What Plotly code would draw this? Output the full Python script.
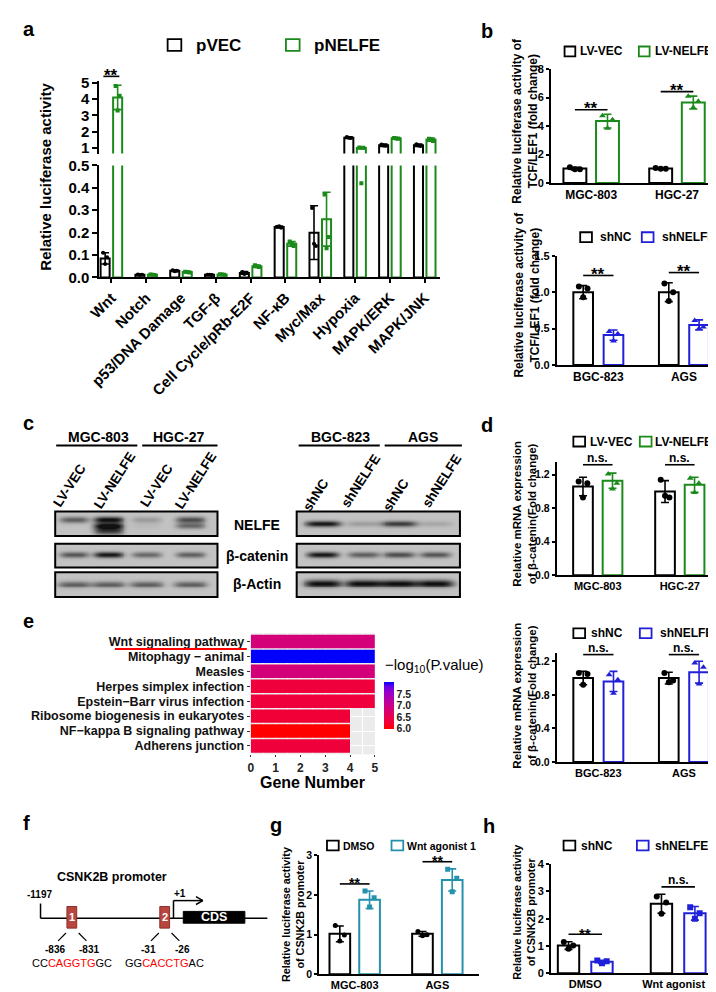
import numpy as np
import plotly.graph_objects as go

W, H = 716, 992
FONT = "Liberation Sans, Arial, Helvetica, sans-serif"
BLACK = "#000000"
GREEN = "#1b8a1b"
BLUE = "#2020d8"
TEAL = "#2592ad"
BRICK = "#b8463f"

# ---------------- DATA ----------------
# panel a
a_categories = ["Wnt", "Notch", "p53/DNA Damage", "TGF-β", "Cell Cycle/pRb-E2F",
                "NF-κB", "Myc/Max", "Hypoxia", "MAPK/ERK", "MAPK/JNK"]
a_pvec_mean = [0.085, 0.012, 0.030, 0.012, 0.020, 0.225, 0.20, 1.62, 1.15, 1.15]
a_pvec_sd = [0.025, 0.002, 0.003, 0.002, 0.006, 0.004, 0.12, 0.05, 0.07, 0.07]
a_pvec_pts = [[0.11, 0.09, 0.06], [0.013, 0.012, 0.011], [0.032, 0.030, 0.028],
              [0.012, 0.011, 0.012], [0.024, 0.020, 0.015], [0.226, 0.222, 0.228],
              [0.31, 0.14, 0.15], [1.66, 1.60, 1.61], [1.20, 1.12, 1.13], [1.21, 1.10, 1.14]]
a_pnelfe_mean = [4.10, 0.012, 0.024, 0.013, 0.050, 0.150, 0.26, 0.98, 1.58, 1.50]
a_pnelfe_sd = [0.75, 0.002, 0.003, 0.002, 0.005, 0.010, 0.12, 0.05, 0.05, 0.10]
a_pnelfe_pts = [[4.8, 4.2, 3.3], [0.013, 0.011, 0.012], [0.026, 0.022, 0.024],
                [0.014, 0.012, 0.013], [0.055, 0.047, 0.050], [0.16, 0.14, 0.15],
                [0.37, 0.18, 0.13], [1.02, 1.00, 0.42], [1.60, 1.55, 1.57], [1.55, 1.42, 1.50]]

# panel b
b_oe_cells = ["MGC-803", "HGC-27"]
b_lvvec_mean = [1.02, 1.02]
b_lvvec_sd = [0.09, 0.05]
b_lvvec_pts = [[1.12, 0.97, 0.97], [1.06, 1.00, 1.00]]
b_lvnelfe_mean = [4.35, 5.65]
b_lvnelfe_sd = [0.48, 0.45]
b_lvnelfe_pts = [[4.72, 4.45, 3.85], [6.10, 5.75, 5.30]]

b_kd_cells = ["BGC-823", "AGS"]
b_shnc_mean = [1.00, 1.00]
b_shnc_sd = [0.09, 0.13]
b_shnc_pts = [[1.08, 1.05, 0.93], [1.12, 1.00, 0.88]]
b_shnelfe_mean = [0.41, 0.55]
b_shnelfe_sd = [0.07, 0.07]
b_shnelfe_pts = [[0.46, 0.43, 0.33], [0.61, 0.52, 0.50]]

# panel c (relative band darkness per lane)
c_left_groups = ["MGC-803", "HGC-27"]
c_right_groups = ["BGC-823", "AGS"]
c_left_lanes = ["LV-VEC", "LV-NELFE", "LV-VEC", "LV-NELFE"]
c_right_lanes = ["shNC", "shNELFE", "shNC", "shNELFE"]
c_rows = ["NELFE", "β-catenin", "β-Actin"]
c_left_nelfe = [0.55, 1.00, 0.22, 0.65]
c_left_nelfe_lower = [0.0, 0.95, 0.05, 0.50]
c_left_nelfe_smear = [0.0, 0.75, 0.0, 0.0]
c_left_catenin = [0.60, 0.95, 0.50, 0.55]
c_left_actin = [0.55, 0.55, 0.55, 0.55]
c_right_nelfe = [0.95, 0.20, 0.75, 0.15]
c_right_catenin = [0.95, 0.55, 0.65, 0.60]
c_right_actin = [1.00, 1.00, 1.00, 1.00]

# panel d
d_lvvec_mean = [1.06, 1.00]
d_lvvec_sd = [0.11, 0.13]
d_lvvec_pts = [[1.12, 1.10, 0.93], [1.14, 0.93, 0.95]]
d_lvnelfe_mean = [1.13, 1.08]
d_lvnelfe_sd = [0.09, 0.09]
d_lvnelfe_pts = [[1.21, 1.10, 1.03], [1.16, 1.10, 0.99]]
d_shnc_mean = [1.00, 1.00]
d_shnc_sd = [0.08, 0.07]
d_shnc_pts = [[1.06, 1.05, 0.92], [1.06, 0.97, 0.95]]
d_shnelfe_mean = [0.96, 1.07]
d_shnelfe_sd = [0.12, 0.13]
d_shnelfe_pts = [[1.04, 0.98, 0.82], [1.18, 1.13, 0.93]]

# panel e
e_terms = ["Wnt signaling pathway", "Mitophagy − animal", "Measles", "Herpes simplex infection",
           "Epstein−Barr virus infection", "Ribosome biogenesis in eukaryotes",
           "NF−kappa B signaling pathway", "Adherens junction"]
e_gene_number = [5, 5, 5, 5, 5, 4, 4, 4]
e_neglog10p = [6.85, 8.05, 6.85, 6.30, 6.30, 6.25, 5.93, 6.28]
e_cbar_ticks = [6.0, 6.5, 7.0, 7.5]

# panel g
g_cells = ["MGC-803", "AGS"]
g_dmso_mean = [1.02, 1.02]
g_dmso_sd = [0.20, 0.06]
g_dmso_pts = [[1.23, 0.99, 0.84], [1.08, 1.00, 0.97]]
g_wnt_mean = [1.88, 2.38]
g_wnt_sd = [0.22, 0.28]
g_wnt_pts = [[2.10, 1.93, 1.70], [2.65, 2.42, 2.08]]

# panel h
h_treat = ["DMSO", "Wnt agonist 1"]
h_shnc_mean = [1.02, 2.55]
h_shnc_sd = [0.14, 0.35]
h_shnc_pts = [[1.15, 1.02, 0.90], [2.82, 2.60, 2.18]]
h_shnelfe_mean = [0.42, 2.20]
h_shnelfe_sd = [0.06, 0.25]
h_shnelfe_pts = [[0.47, 0.44, 0.37], [2.42, 2.20, 2.00]]

# ---------------- helpers ----------------
traces, shapes, annotations = [], [], []
layout_axes = {}
AX = {}


def P(x, y):
    return x / W, 1 - y / H


def axname(n, letter):
    return f"{letter}axis" + ("" if n == 1 else str(n))


def axref(n, letter):
    return letter + ("" if n == 1 else str(n))


def add_axes(n, xdom, xr, ydom, yr, xkw, ykw):
    AX[n] = (xdom, xr, ydom, yr)
    xa = dict(domain=[xdom[0] / W, xdom[1] / W], range=list(xr), anchor=axref(n, "y"),
              showgrid=False, zeroline=False, fixedrange=True)
    xa.update(xkw)
    ya = dict(domain=[1 - ydom[1] / H, 1 - ydom[0] / H], range=list(yr), anchor=axref(n, "x"),
              showgrid=False, zeroline=False, fixedrange=True)
    ya.update(ykw)
    layout_axes[axname(n, "x")] = xa
    layout_axes[axname(n, "y")] = ya


def to_px(n, x, y):
    xdom, xr, ydom, yr = AX[n]
    X = xdom[0] + (x - xr[0]) / (xr[1] - xr[0]) * (xdom[1] - xdom[0])
    Y = ydom[1] - (y - yr[0]) / (yr[1] - yr[0]) * (ydom[1] - ydom[0])
    return X, Y


def line(x0, y0, x1, y1, color="black", w=1.6):
    a, b = P(x0, y0)
    c, d = P(x1, y1)
    shapes.append(dict(type="line", xref="paper", yref="paper", x0=a, y0=b, x1=c, y1=d,
                       line=dict(color=color, width=w)))


def rect(x0, y0, x1, y1, color="black", fill="rgba(0,0,0,0)", w=1.6, layer="above"):
    a, b = P(x0, y0)
    c, d = P(x1, y1)
    shapes.append(dict(type="rect", xref="paper", yref="paper", x0=a, y0=b, x1=c, y1=d,
                       line=dict(color=color, width=w), fillcolor=fill, layer=layer))


def text(x, y, s, size, color="black", bold=True, xanchor="center", yanchor="middle", angle=0):
    a, b = P(x, y)
    annotations.append(dict(xref="paper", yref="paper", x=a, y=b,
                            text=(f"<b>{s}</b>" if bold else s), showarrow=False,
                            font=dict(family=FONT, size=size, color=color),
                            xanchor=xanchor, yanchor=yanchor, textangle=angle, borderpad=0))


def tfont(size, color="black"):
    return dict(family=FONT, size=size, color=color, weight="bold")


def ystyle(tickvals, fmt, size, ticklen=4):
    return dict(showline=True, linecolor="black", linewidth=1.8, ticks="outside", ticklen=ticklen,
                tickwidth=1.8, tickcolor="black", tickvals=tickvals, tickformat=fmt,
                tickfont=tfont(size))


def xcat(cats, size, angle=0, ticks=""):
    return dict(showline=True, linecolor="black", linewidth=1.8, ticks=ticks, ticklen=4,
                tickwidth=1.8, tickcolor="black", tickvals=list(range(len(cats))),
                ticktext=cats, tickangle=angle, tickfont=tfont(size))


JIT = [-0.22, 0.22, 0.0]


def bar_group(n, means, sds, pts, xs, width, color, symbol, msize):
    xr_, yr_ = axref(n, "x"), axref(n, "y")
    traces.append(go.Bar(x=xs, y=means, width=width, xaxis=xr_, yaxis=yr_,
                         marker=dict(color="white", line=dict(color=color, width=2)),
                         error_y=dict(type="data", array=sds, visible=True, color=color,
                                      thickness=1.6, width=4),
                         showlegend=False, hoverinfo="skip"))
    sx, sy = [], []
    for x0, p in zip(xs, pts):
        for j, v in enumerate(p):
            sx.append(x0 + JIT[j] * width)
            sy.append(v)
    traces.append(go.Scatter(x=sx, y=sy, mode="markers", xaxis=xr_, yaxis=yr_,
                             marker=dict(symbol=symbol, color=color, size=msize, line=dict(width=0)),
                             showlegend=False, hoverinfo="skip"))


def bracket(n, x0, x1, yv, label, size):
    X0, Y = to_px(n, x0, yv)
    X1, _ = to_px(n, x1, yv)
    line(X0, Y, X1, Y, w=1.6)
    if label.startswith("*"):
        text((X0 + X1) / 2, Y - 1, label, size, yanchor="middle")
    else:
        text((X0 + X1) / 2, Y + 1, label, size, yanchor="bottom")


def legend_item(xbox, y, color, label, size, bw=12, bh=10, gap=4):
    rect(xbox, y - bh / 2, xbox + bw, y + bh / 2, color=color, fill="white", w=1.8)
    text(xbox + bw + gap, y, label, size, xanchor="left")


def top_of(means, sds, pts, i):
    return max(means[i] + sds[i], max(pts[i]))


# ---------------- panel a (broken axis) ----------------
a_xr = (-0.35, 9.45)
a_top_yr = (1 - 6 / 16.5, 5 + 2 / 16.5)
add_axes(1, (81, 430), a_xr, (65, 139), a_top_yr,
         dict(visible=False),
         ystyle([1, 2, 3, 4, 5], "d", 15, 5))
add_axes(2, (81, 430), a_xr, (151, 265), (0, 0.5),
         xcat(a_categories, 15, -45, "outside"),
         ystyle([0, 0.1, 0.2, 0.3, 0.4, 0.5], ".1f", 15, 5))
a_off, a_w = 0.18, 0.26
xs_v = [i - a_off for i in range(len(a_categories))]
xs_n = [i + a_off for i in range(len(a_categories))]
for n in (1, 2):
    bar_group(n, a_pvec_mean, a_pvec_sd, a_pvec_pts, xs_v, a_w, BLACK, "circle", 4)
    bar_group(n, a_pnelfe_mean, a_pnelfe_sd, a_pnelfe_pts, xs_n, a_w, GREEN, "square", 4)
wnt_top = max(top_of(a_pvec_mean, a_pvec_sd, a_pvec_pts, 0), top_of(a_pnelfe_mean, a_pnelfe_sd, a_pnelfe_pts, 0))
bracket(1, -a_off - 0.05, a_off + 0.05, wnt_top + 0.55, "**", 17)
legend_item(151, 28.5, BLACK, "pVEC", 17, bw=14, bh=12, gap=14)
legend_item(272, 28.5, GREEN, "pNELFE", 17, bw=14, bh=12, gap=14)
text(26, 162, "Relative luciferase activity", 15, angle=-90)

# ---------------- panel b ----------------
b_top_xr = (-0.47, 1.49)
b_bot_xr = (-0.486, 1.41)
add_axes(3, (543, 715), b_top_xr, (53, 169), (0, 8), xcat(b_oe_cells, 12), ystyle([0, 2, 4, 6, 8], "d", 11, 3))
add_axes(4, (549, 715), b_bot_xr, (243, 354), (0, 1.5), xcat(b_kd_cells, 12), ystyle([0, 0.5, 1.0, 1.5], ".1f", 11, 3))
bt_off, bt_w = 0.19, 0.267
bb_off, bb_w = 0.177, 0.23
bar_group(3, b_lvvec_mean, b_lvvec_sd, b_lvvec_pts, [-bt_off, 1 - bt_off], bt_w, BLACK, "circle", 6)
bar_group(3, b_lvnelfe_mean, b_lvnelfe_sd, b_lvnelfe_pts, [bt_off, 1 + bt_off], bt_w, GREEN, "triangle-up", 6)
bar_group(4, b_shnc_mean, b_shnc_sd, b_shnc_pts, [-bb_off, 1 - bb_off], bb_w, BLACK, "circle", 6)
bar_group(4, b_shnelfe_mean, b_shnelfe_sd, b_shnelfe_pts, [bb_off, 1 + bb_off], bb_w, BLUE, "triangle-up", 6)
for i in range(2):
    t = max(top_of(b_lvvec_mean, b_lvvec_sd, b_lvvec_pts, i), top_of(b_lvnelfe_mean, b_lvnelfe_sd, b_lvnelfe_pts, i))
    bracket(3, i - bt_off, i + bt_off, t + 0.32, "**", 17)
    t = max(top_of(b_shnc_mean, b_shnc_sd, b_shnc_pts, i), top_of(b_shnelfe_mean, b_shnelfe_sd, b_shnelfe_pts, i))
    bracket(4, i - bb_off, i + bb_off, t + 0.14, "**", 17)
legend_item(557, 35, BLACK, "LV-VEC", 12, bw=11, bh=10, gap=4)
legend_item(633, 35, GREEN, "LV-NELFE", 12, bw=11, bh=10, gap=5)
legend_item(573, 224, BLACK, "shNC", 12, bw=12, bh=10, gap=7)
legend_item(636, 224, BLUE, "shNELFE", 12, bw=12, bh=10, gap=8)
text(517, 105, "Relative luciferase activity of<br>TCF/LEF1 (fold change)", 12, angle=-90)
text(519, 282, "Relative luciferase activity of<br>TCF/LEF1 (fold change)", 12, angle=-90)

# ---------------- panel d ----------------
d_top_xr = (-0.5, 1.49)
d_off, d_w = 0.18, 0.24
add_axes(5, (549, 716), d_top_xr, (453, 568), (0, 1.35), xcat(b_oe_cells, 11), ystyle([0, 0.4, 0.8, 1.2], ".1f", 10.5, 3))
add_axes(6, (549, 715), b_bot_xr, (647, 758), (0, 1.3), xcat(b_kd_cells, 11), ystyle([0, 0.4, 0.8, 1.2], ".1f", 10.5, 3))
bar_group(5, d_lvvec_mean, d_lvvec_sd, d_lvvec_pts, [-d_off, 1 - d_off], d_w, BLACK, "circle", 6)
bar_group(5, d_lvnelfe_mean, d_lvnelfe_sd, d_lvnelfe_pts, [d_off, 1 + d_off], d_w, GREEN, "triangle-up", 6)
bar_group(6, d_shnc_mean, d_shnc_sd, d_shnc_pts, [-bb_off, 1 - bb_off], bb_w, BLACK, "circle", 6)
bar_group(6, d_shnelfe_mean, d_shnelfe_sd, d_shnelfe_pts, [bb_off, 1 + bb_off], bb_w, BLUE, "triangle-up", 6)
d_top_level = max(max(top_of(d_lvvec_mean, d_lvvec_sd, d_lvvec_pts, i), top_of(d_lvnelfe_mean, d_lvnelfe_sd, d_lvnelfe_pts, i)) for i in range(2))
d_bot_level = max(max(top_of(d_shnc_mean, d_shnc_sd, d_shnc_pts, i), top_of(d_shnelfe_mean, d_shnelfe_sd, d_shnelfe_pts, i)) for i in range(2))
for i in range(2):
    bracket(5, i - d_off, i + d_off, d_top_level + 0.1, "n.s.", 12)
    bracket(6, i - bb_off, i + bb_off, d_bot_level + 0.08, "n.s.", 12)
legend_item(566, 432, BLACK, "LV-VEC", 12, bw=12, bh=10, gap=4)
legend_item(634, 432, GREEN, "LV-NELFE", 12, bw=12, bh=10, gap=3)
legend_item(566, 627, BLACK, "shNC", 12, bw=12, bh=10, gap=5)
legend_item(634, 627, BLUE, "shNELFE", 12, bw=12, bh=10, gap=8)
text(516, 505, "Relative mRNA expression<br>of β-catenin(Fold change)", 11.5, angle=-90)
text(516, 690, "Relative mRNA expression<br>of β-catenin(Fold change)", 11.5, angle=-90)

# ---------------- panel g ----------------
g_xr = (-0.43, 1.51)
g_off, g_w = 0.18, 0.25
add_axes(7, (306, 470), g_xr, (853, 974), (0, 3), xcat(g_cells, 11), ystyle([0, 1, 2, 3], "d", 10.5, 3))
bar_group(7, g_dmso_mean, g_dmso_sd, g_dmso_pts, [-g_off, 1 - g_off], g_w, BLACK, "circle", 5)
bar_group(7, g_wnt_mean, g_wnt_sd, g_wnt_pts, [g_off, 1 + g_off], g_w, TEAL, "square", 5)
for i in range(2):
    t = max(top_of(g_dmso_mean, g_dmso_sd, g_dmso_pts, i), top_of(g_wnt_mean, g_wnt_sd, g_wnt_pts, i))
    bracket(7, i - g_off, i + g_off, t + 0.18, "**", 14)
legend_item(314, 843, BLACK, "DMSO", 10.5, bw=12, bh=10, gap=3)
legend_item(380, 843, TEAL, "Wnt agonist 1", 10.5, bw=12, bh=10, gap=3)
text(280, 913, "Relative luciferase activity<br>of CSNK2B promoter", 10.8, angle=-90)

# ---------------- panel h ----------------
h_xr = (-0.37, 1.45)
h_off, h_w = 0.18, 0.23
add_axes(8, (543, 716), h_xr, (862, 973), (0, 4), xcat(h_treat, 11), ystyle([0, 1, 2, 3, 4], "d", 11, 3))
bar_group(8, h_shnc_mean, h_shnc_sd, h_shnc_pts, [-h_off, 1 - h_off], h_w, BLACK, "circle", 6)
bar_group(8, h_shnelfe_mean, h_shnelfe_sd, h_shnelfe_pts, [h_off, 1 + h_off], h_w, BLUE, "square", 6)
h_labels = ["**", "n.s."]
for i in range(2):
    t = max(top_of(h_shnc_mean, h_shnc_sd, h_shnc_pts, i), top_of(h_shnelfe_mean, h_shnelfe_sd, h_shnelfe_pts, i))
    bracket(8, i - h_off, i + h_off, t + 0.27, h_labels[i], 15 if i == 0 else 12)
legend_item(556, 843, BLACK, "shNC", 12, bw=12, bh=10, gap=5)
legend_item(631, 843, BLUE, "shNELFE", 12, bw=12, bh=10, gap=5)
text(516, 911, "Relative luciferase activity<br>of CSNK2B promoter", 10.8, angle=-90)

# ---------------- panel e ----------------
def srgb_to_lin(c):
    c = np.asarray(c, float) / 255
    return np.where(c <= 0.04045, c / 12.92, ((c + 0.055) / 1.055) ** 2.4)


def lin_to_srgb(c):
    c = np.clip(c, 0, 1)
    return np.where(c <= 0.0031308, 12.92 * c, 1.055 * np.power(c, 1 / 2.4) - 0.055) * 255


MXYZ = np.array([[0.4124, 0.3576, 0.1805], [0.2126, 0.7152, 0.0722], [0.0193, 0.1192, 0.9505]])
WHITE = np.array([0.95047, 1.0, 1.08883])


def _f(t):
    d = 6 / 29
    return np.where(t > d ** 3, np.cbrt(t), t / (3 * d * d) + 4 / 29)


def _finv(t):
    d = 6 / 29
    return np.where(t > d, t ** 3, 3 * d * d * (t - 4 / 29))


def rgb2lab(rgb):
    xyz = MXYZ @ srgb_to_lin(rgb)
    fx, fy, fz = _f(xyz / WHITE)
    return np.array([116 * fy - 16, 500 * (fx - fy), 200 * (fy - fz)])


def lab2rgb(lab):
    L, a, b = lab
    fy = (L + 16) / 116
    fx = fy + a / 500
    fz = fy - b / 200
    xyz = WHITE * _finv(np.array([fx, fy, fz]))
    return lin_to_srgb(np.linalg.inv(MXYZ) @ xyz)


lab_lo, lab_hi = rgb2lab([255, 0, 0]), rgb2lab([0, 0, 255])
LABSCALE = []
for t in np.linspace(0, 1, 11):
    r, g, b = lab2rgb(lab_lo + (lab_hi - lab_lo) * t)
    LABSCALE.append([float(t), f"rgb({int(round(r))},{int(round(g))},{int(round(b))})"])

add_axes(9, (236, 363), (0, 5), (627, 750), (7.55, -0.55),
         dict(tickvals=[0, 1, 2, 3, 4, 5], ticks="outside", ticklen=2, tickcolor="#333333",
              tickfont=tfont(12, "#222222"), showgrid=True, gridcolor="white", gridwidth=1.2,
              minor=dict(dtick=0.5, tick0=0, showgrid=True, gridcolor="white", gridwidth=0.5, ticks="")),
         dict(tickvals=list(range(len(e_terms))), ticktext=e_terms, ticks="outside", ticklen=3,
              tickcolor="#333333", tickfont=tfont(12.5, "#111111"), showgrid=True,
              gridcolor="white", gridwidth=1.2))
rect(236, 627, 363, 750, color="rgba(0,0,0,0)", fill="#EBEBEB", w=0, layer="below")
traces.append(go.Bar(x=e_gene_number, y=list(range(len(e_terms))), orientation="h", width=0.9,
                     xaxis="x9", yaxis="y9", showlegend=False, hoverinfo="skip",
                     marker=dict(color=e_neglog10p, colorscale=LABSCALE, cmin=min(e_neglog10p),
                                 cmax=max(e_neglog10p), line=dict(width=0),
                                 colorbar=dict(x=372 / W, xanchor="left", y=1 - 701 / H, yanchor="middle",
                                               len=48 / H, lenmode="fraction", thickness=10,
                                               thicknessmode="pixels", outlinewidth=0,
                                               tickvals=e_cbar_ticks,
                                               ticktext=[f"{v:.1f}" for v in e_cbar_ticks],
                                               tickfont=tfont(10.5, "#222222"), ticks="",
                                               xpad=0, ypad=0)))
                     )
text(372, 660, "−log<sub>10</sub>(P.value)", 15, bold=False, xanchor="left")
text(299, 779, "Gene Number", 16)
line(97, 643, 232, 643, color="#ff0000", w=2)

# ---------------- panel c (western blots) ----------------
def render_blot(width, rows):
    total = rows[-1][1]
    z = np.full((total, width), np.nan)
    xs = np.arange(width) + 0.5
    for (y0, y1, bands) in rows:
        ys = np.arange(y0, y1) + 0.5
        dark = np.full((len(ys), width), 0.03)
        for (yc, hh, lanes_x, intens, hw) in bands:
            for lx, I in zip(lanes_x, intens):
                prof_x = np.exp(-np.abs((xs - lx) / hw) ** 4)
                prof_y = np.exp(-((ys - yc) / hh) ** 2)
                dark += I * np.outer(prof_y, prof_x)
        z[y0:y1] = np.clip(dark, 0, 1)
    return xs, np.arange(total) + 0.5, z


BLOT_CS = [[0, "#c8c8c8"], [0.5, "#6e6e6e"], [1, "#111111"]]
left_lane_x = [20, 55, 94, 139]
right_lane_x = [27, 69, 105, 142]
row_px = [(0, 25), (33, 57), (62, 87)]
lx_, ly_, lz = render_blot(166, [
    (0, 25, [(9, 3.2, left_lane_x, c_left_nelfe, 15), (15, 3.0, left_lane_x, c_left_nelfe_lower, 15),
             (20, 4.0, left_lane_x, c_left_nelfe_smear, 15)]),
    (33, 57, [(44, 3.0, left_lane_x, c_left_catenin, 15)]),
    (62, 87, [(74, 3.5, left_lane_x, c_left_actin, 17)]),
])
rx_, ry_, rz = render_blot(167, [
    (0, 25, [(13, 3.0, right_lane_x, c_right_nelfe, 18)]),
    (33, 57, [(44, 3.0, right_lane_x, c_right_catenin, 16)]),
    (62, 87, [(73, 4.0, right_lane_x, c_right_actin, 19)]),
])
add_axes(10, (36, 202), (0, 166), (503, 590), (87, 0), dict(visible=False), dict(visible=False))
add_axes(11, (283, 450), (0, 167), (503, 590), (87, 0), dict(visible=False), dict(visible=False))
traces.append(go.Heatmap(x=lx_, y=ly_, z=lz, colorscale=BLOT_CS, zmin=0, zmax=1, showscale=False,
                         xaxis="x10", yaxis="y10", hoverinfo="skip"))
traces.append(go.Heatmap(x=rx_, y=ry_, z=rz, colorscale=BLOT_CS, zmin=0, zmax=1, showscale=False,
                         xaxis="x11", yaxis="y11", hoverinfo="skip"))
for (x0, x1) in [(36, 202), (283, 450)]:
    for (r0, r1) in row_px:
        rect(x0, 503 + r0, x1, 503 + r1, color="black", w=2)
# headers
for name, cx, (lx0, lx1) in zip(c_left_groups + c_right_groups, [80, 163, 328, 412],
                                [(37, 120), (125, 202), (285, 368), (373, 452)]):
    text(cx, 427, name, 14)
    line(lx0, 436, lx1, 436, w=2)
for lab, (cx, cy) in zip(c_left_lanes + c_right_lanes,
                         [(51, 477), (97, 472), (140, 477), (180, 472),
                          (303, 486), (349, 472), (385, 486), (432, 472)]):
    text(cx, cy, lab, 13.5, angle=-57)
for lab, cy in zip(c_rows, [517, 548, 577]):
    text(242, cy, lab, 14)

# ---------------- panel f (promoter schematic) ----------------
text(37, 875, "CSNK2B promoter", 12.5, xanchor="left")
text(20, 893, "-1197", 10)
line(21, 902, 21, 917, w=1.5)
line(21, 917, 253, 917, w=1.5)
for (bx, lab, lbls, seq) in [(48, "1", ("-836", "-831"), "CC<span style='color:#ff0000'>CAGGTG</span>GC"),
                             (143, "2", ("-31", "-26"), "GG<span style='color:#ff0000'>CACCTG</span>AC")]:
    rect(bx, 905, bx + 10, 927, color="#8c2f2a", fill=BRICK, w=1)
    text(bx + 5, 916, lab, 11, color="white")
    line(bx - 9, 940, bx - 1, 932, w=1.2)
    line(bx + 12, 932, bx + 20, 940, w=1.2)
    text(bx - 12, 949, lbls[0], 10)
    text(bx + 23, 949, lbls[1], 10)
    text(bx + 5, 962, seq, 11, bold=False)
line(157, 917, 157, 899, w=1.5)
line(157, 899, 187, 899, w=1.5)
line(180, 895, 187, 899, w=1.5)
line(180, 903, 187, 899, w=1.5)
text(164, 892, "+1", 10)
rect(167, 910, 230, 922, color="black", fill="black", w=1)
text(198, 916, "CDS", 12.5, color="white")

# ---------------- panel letters ----------------
for lab, x, y in [("a", 2, 12), ("b", 471, 14), ("c", 2, 413), ("d", 471, 415),
                  ("e", 2, 615), ("f", 2, 820), ("g", 255, 822), ("h", 473, 823)]:
    text(x, y, lab, 20, xanchor="left")

fig = go.Figure(data=traces)
fig.update_layout(width=W, height=H, margin=dict(l=0, r=0, t=0, b=0),
                  paper_bgcolor="white", plot_bgcolor="rgba(0,0,0,0)",
                  barmode="overlay", showlegend=False, shapes=shapes, annotations=annotations,
                  font=dict(family=FONT, color="black"), **layout_axes)
fig.write_html("out.html")
